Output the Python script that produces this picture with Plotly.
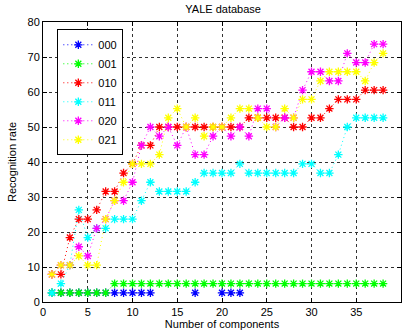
import plotly.graph_objects as go

components = list(range(1, 39))

s000 = [2.63, 2.63, 2.63, 2.63, 2.63, 2.63, 2.63, 2.63, 2.63, 2.63,
        2.63, 2.63, None, None, None, None, 2.63, None, None, 2.63,
        2.63, 2.63, None, None, None, None, None, None, None, None,
        None, None, None, None, None, None, None, None]
s001 = [2.63, 2.63, 2.63, 2.63, 2.63, 2.63, 2.63, 5.26, 5.26, 5.26,
        5.26, 5.26, 5.26, 5.26, 5.26, 5.26, 5.26, 5.26, 5.26, 5.26,
        5.26, 5.26, 5.26, 5.26, 5.26, 5.26, 5.26, 5.26, 5.26, 5.26,
        5.26, 5.26, 5.26, 5.26, 5.26, 5.26, 5.26, 5.26]
s010 = [7.89, 7.89, 18.42, 23.68, 23.68, 26.32, 31.58, 31.58, 36.84, 39.47,
        44.74, 44.74, 50.00, 50.00, 50.00, 50.00, 50.00, 50.00, 50.00, 50.00,
        50.00, 50.00, 52.63, 52.63, 52.63, 52.63, 52.63, 50.00, 50.00, 52.63,
        52.63, 55.26, 57.89, 57.89, 57.89, 60.53, 60.53, 60.53]
s011 = [2.63, 5.26, 10.53, 26.32, 18.42, 21.05, 21.05, 23.68, 23.68, 23.68,
        28.95, 34.21, 31.58, 31.58, 31.58, 31.58, 34.21, 36.84, 36.84, 36.84,
        36.84, 39.47, 36.84, 36.84, 36.84, 36.84, 36.84, 36.84, 39.47, 39.47,
        36.84, 36.84, 42.11, 50.00, 52.63, 52.63, 52.63, 52.63]
s020 = [7.89, 10.53, 10.53, 15.79, 13.16, 21.05, 23.68, 28.95, 28.95, 34.21,
        44.74, 50.00, 47.37, 50.00, 44.74, 50.00, 42.11, 42.11, 47.37, 50.00,
        47.37, 50.00, 47.37, 55.26, 55.26, 50.00, 52.63, 52.63, 60.53, 65.79,
        65.79, 63.16, 63.16, 71.05, 68.42, 68.42, 73.68, 73.68]
s021 = [7.89, 10.53, 10.53, 13.16, 10.53, 10.53, 23.68, 28.95, 34.21, 39.47,
        39.47, 39.47, 42.11, 52.63, 55.26, 50.00, 52.63, 47.37, 50.00, 50.00,
        52.63, 55.26, 55.26, 52.63, 50.00, 50.00, 55.26, 52.63, 57.89, 57.89,
        63.16, 65.79, 65.79, 65.79, 65.79, 63.16, 68.42, 71.05]

series_names = ["000", "001", "010", "011", "020", "021"]
series_values = [s000, s001, s010, s011, s020, s021]
series_colors = ["#0000ff", "#00ff00", "#ff0000", "#00ffff", "#ff00ff", "#ffff00"]

x_ticks = [0, 5, 10, 15, 20, 25, 30, 35, 40]
y_ticks = [0, 10, 20, 30, 40, 50, 60, 70, 80]

font = "Liberation Sans, Arial, sans-serif"

fig = go.Figure()
for name, vals, col in zip(series_names, series_values, series_colors):
    fig.add_trace(go.Scatter(
        x=components, y=vals, name=name, mode="lines+markers",
        connectgaps=False,
        line=dict(color=col, width=1, dash="1px,3px"),
        marker=dict(symbol="asterisk", size=7, color=col,
                    line=dict(color=col, width=1.3)),
    ))

axis_common = dict(
    showline=True, linecolor="black", linewidth=1, mirror="ticks",
    ticks="inside", ticklen=4, tickcolor="black",
    showgrid=True, gridcolor="#333333", gridwidth=1, griddash="dot",
    zeroline=False, tickfont=dict(family=font, size=11, color="black"),
)

fig.update_layout(
    width=402, height=335,
    margin=dict(l=43, r=1, t=22, b=33),
    paper_bgcolor="white", plot_bgcolor="white",
    title=dict(text="YALE database", x=0.555, xanchor="center", y=0.985, yanchor="top",
               font=dict(family=font, size=11, color="black")),
    xaxis=dict(range=[0, 40], tickvals=x_ticks,
               title=dict(text="Number of components", standoff=3,
                          font=dict(family=font, size=11, color="black")),
               **axis_common),
    yaxis=dict(range=[0, 80], tickvals=y_ticks,
               title=dict(text="Recognition rate", standoff=8,
                          font=dict(family=font, size=11, color="black")),
               **axis_common),
    legend=dict(x=0.04, y=0.974, xanchor="left", yanchor="top",
                bgcolor="white", bordercolor="black", borderwidth=1,
                font=dict(family=font, size=11, color="black"),
                itemwidth=30, tracegroupgap=0),
    showlegend=True,
)

fig.write_html("out.html")
